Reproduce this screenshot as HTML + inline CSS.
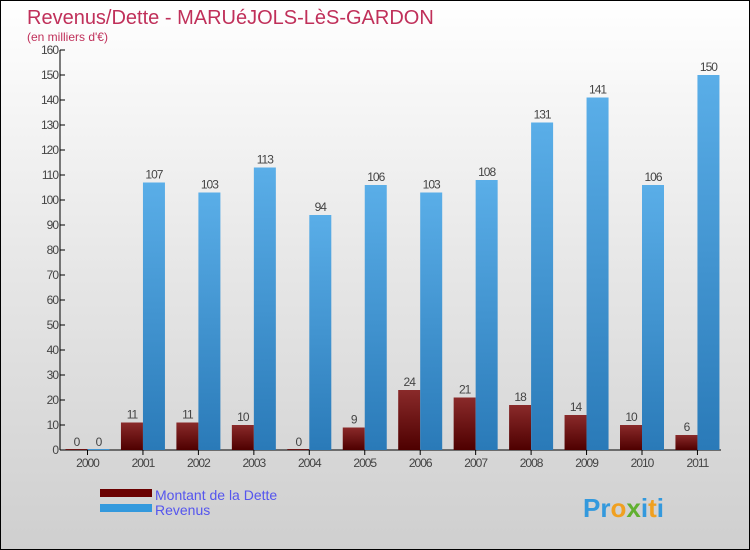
<!DOCTYPE html>
<html><head><meta charset="utf-8"><style>
body{margin:0}
#c{width:748px;height:548px;border:1px solid #000;background:linear-gradient(#fff,#e6e6e6 50%,#cfcfcf);position:relative;overflow:hidden;font-family:"Liberation Sans",sans-serif}
</style></head><body>
<div id="c">
<svg width="748" height="548" id="svg">
<defs>
<linearGradient id="gd" x1="0" y1="0" x2="0" y2="1"><stop offset="0" stop-color="#8a2a2a"/><stop offset="1" stop-color="#4e0000"/></linearGradient>
<linearGradient id="gr" x1="0" y1="0" x2="0" y2="1"><stop offset="0" stop-color="#5aaee8"/><stop offset="1" stop-color="#2a7ab8"/></linearGradient>
</defs>
<text x="26" y="23" font-size="20" fill="#c0305a">Revenus/Dette - MARUéJOLS-LèS-GARDON</text>
<text x="26" y="40" font-size="12" fill="#c0305a">(en milliers d'€)</text>
<g id="axes"></g><g id="bars"></g>
<rect x="99" y="488" width="52" height="8" fill="#6a0000"/>
<rect x="99" y="503" width="52" height="8" fill="#3399dd"/>
<text x="154" y="499" font-size="14" fill="#5555ee">Montant de la Dette</text>
<text x="154" y="514" font-size="14" fill="#5555ee">Revenus</text>
<text x="582" y="516" font-size="26" font-weight="bold" fill="#3399dd">Pr<tspan fill="#f0a020">o</tspan><tspan fill="#60b030">x</tspan>i<tspan fill="#f0a020">t</tspan>i</text>
</svg></div>
<script>
const years=["2000","2001","2002","2003","2004","2005","2006","2007","2008","2009","2010","2011"];
const dette=[0,11,11,10,0,9,24,21,18,14,10,6];
const revenus=[0,107,103,113,94,106,103,108,131,141,106,150];
const ticks=[0,10,20,30,40,50,60,70,80,90,100,110,120,130,140,150,160];
const NS="http://www.w3.org/2000/svg";
const y=v=>449-v*2.5, xc=i=>86.5+i*55.45;
const ax=document.getElementById('axes'),bg=document.getElementById('bars');
function mk(t,a,p){const e=document.createElementNS(NS,t);for(const k in a)e.setAttribute(k,a[k]);p.appendChild(e);return e;}
let e=mk('line',{x1:59,y1:49,x2:59,y2:449,stroke:'#000'},ax);


e=mk('line',{x1:59,y1:449,x2:720,y2:449,stroke:'#000'},ax);


ticks.forEach(t=>{mk('line',{x1:59,y1:y(t),x2:64,y2:y(t),stroke:'#000'},ax);
const l=mk('text',{x:57,y:y(t)+4,'font-size':12,fill:'#444','text-anchor':'end','letter-spacing':'-1'},ax);l.textContent=t;

});
years.forEach((yr,i)=>{const c=xc(i);
mk('line',{x1:c,y1:449,x2:c,y2:454,stroke:'#000'},ax);
const l=mk('text',{x:c,y:466,'font-size':12,fill:'#444','text-anchor':'middle','letter-spacing':'-1'},ax);l.textContent=yr;


const d=dette[i],r=revenus[i];
let b=mk('rect',{x:c-22,y:y(d)-(d?0:1),width:22,height:Math.max(d*2.5,1),fill:'url(#gd)'},bg);


b=mk('rect',{x:c,y:y(r)-(r?0:1),width:22,height:Math.max(r*2.5,1),fill:'url(#gr)'},bg);


let t=mk('text',{x:c-11,y:y(d)-4,'font-size':12,fill:'#444','text-anchor':'middle','letter-spacing':'-1'},bg);t.textContent=d;


t=mk('text',{x:c+11,y:y(r)-4,'font-size':12,fill:'#444','text-anchor':'middle','letter-spacing':'-1'},bg);t.textContent=r;

});
</script>
</body></html>
